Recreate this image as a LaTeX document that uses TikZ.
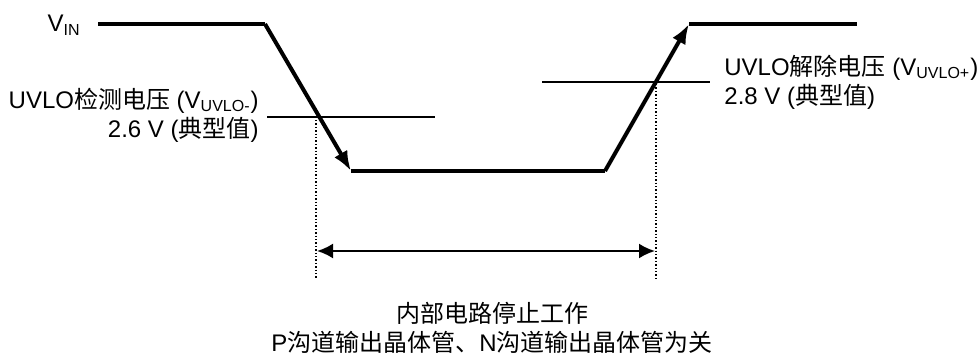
\documentclass[tikz,border=0pt]{standalone}
\usepackage{fontspec}
\setmainfont{Liberation Sans}
\newfontfamily\cjk{Noto Sans CJK SC}
\usetikzlibrary{arrows.meta}

\begin{document}
\begin{tikzpicture}[x=0.5pt,y=-0.5pt,
	wave/.style={line width=2pt,line join=miter},
	edge/.style={wave,-{Latex[length=10pt,width=7.5pt]}},
	level/.style={line width=0.6pt},
	mark line/.style={line width=0.7pt,densely dotted},
	span/.style={line width=1.1pt,{Latex[length=8pt,width=7.5pt]}-{Latex[length=8pt,width=7.5pt]}},
	lbl/.style={inner sep=0pt,font=\fontsize{12}{14.5}\selectfont}]
	\useasboundingbox (0,0) rectangle (980,358);
	% waveform
	\coordinate (A) at (98,24);
	\coordinate (B) at (265,24);
	\coordinate (C) at (351,171);
	\coordinate (D) at (605,171);
	\coordinate (E) at (689,24);
	\coordinate (F) at (857,24);
	\node[lbl,anchor=east] (vin) at (81,25) {V\textsubscript{IN}};
	\draw[wave] (A)--(B);
	\draw[edge] (B)--(C);
	\draw[wave] (C)--(D);
	\draw[edge] (D)--(E);
	\draw[wave] (E)--(F);
	% thresholds
	\coordinate (L1) at (267,117);
	\coordinate (L2) at (435,117);
	\coordinate (R1) at (542,82);
	\coordinate (R2) at (710,82);
	\draw[level] (L1)--(L2);
	\draw[level] (R1)--(R2);
	\node[lbl,anchor=east,align=right] (det) at (259,115) {UVLO{\cjk 检测电压} (V\textsubscript{UVLO-})\\2.6 V ({\cjk 典型值})};
	\node[lbl,anchor=west,align=left] (rel) at (724,82) {UVLO{\cjk 解除电压} (V\textsubscript{UVLO+})\\2.8 V ({\cjk 典型值})};
	% stop interval
	\coordinate (P1) at (316,120);
	\coordinate (P2) at (316,279);
	\coordinate (Q1) at (656,84);
	\coordinate (Q2) at (656,279);
	\draw[mark line] (P1)--(P2);
	\draw[mark line] (Q1)--(Q2);
	\coordinate (G) at (317,251);
	\coordinate (H) at (655,251);
	\draw[span] (G)--(H);
	\node[lbl,align=center] (stop) at (492,328) {{\cjk 内部电路停止工作}\\P{\cjk 沟道输出晶体管、}N{\cjk 沟道输出晶体管为关}};
\end{tikzpicture}
\end{document}
